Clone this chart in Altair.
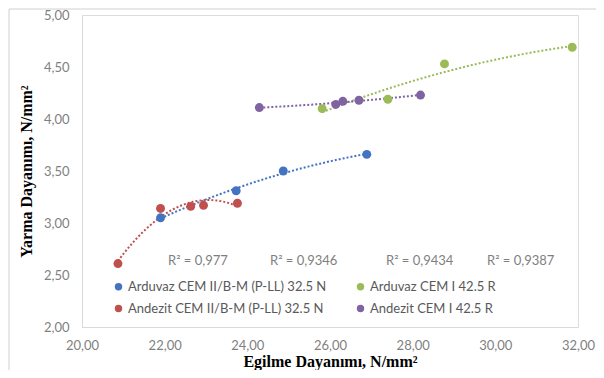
import altair as alt
import pandas as pd

# ---- data ----
series_names = [
    "Arduvaz CEM II/B-M (P-LL) 32.5 N",
    "Andezit CEM II/B-M (P-LL) 32.5 N",
    "Arduvaz CEM I 42.5 R",
    "Andezit CEM I 42.5 R",
]
series_colors = ["#4374C1", "#C0504D", "#9BBB59", "#8064A2"]

ard2_x = [21.90, 23.73, 24.87, 26.89]
ard2_y = [3.05, 3.31, 3.50, 3.66]

ard1_x = [25.81, 27.40, 28.77, 31.86]
ard1_y = [4.10, 4.19, 4.53, 4.69]

and2_x = [20.87, 21.90, 22.63, 22.94, 23.76]
and2_y = [2.61, 3.14, 3.16, 3.17, 3.19]

and1_x = [24.29, 26.14, 26.31, 26.70, 28.19]
and1_y = [4.11, 4.14, 4.17, 4.18, 4.23]

r2_labels = ["R² = 0,977", "R² = 0,9346", "R² = 0,9434", "R² = 0,9387"]
r2_anchor_px = [86, 188, 304, 405]   # annotation positions (pixels in plot area)

rows = []
for name, xs, ys in [
    ("Arduvaz CEM II/B-M (P-LL) 32.5 N", ard2_x, ard2_y),
    ("Arduvaz CEM I 42.5 R", ard1_x, ard1_y),
    ("Andezit CEM II/B-M (P-LL) 32.5 N", and2_x, and2_y),
    ("Andezit CEM I 42.5 R", and1_x, and1_y),
]:
    for xv, yv in zip(xs, ys):
        rows.append({"seri": name, "x": xv, "y": yv})
df = pd.DataFrame(rows)

FONT = "Lato"
GREY = "#7f7f7f"
LGREY = "#d9d9d9"

xscale = alt.Scale(domain=[20, 32], nice=False, zero=False)
yscale = alt.Scale(domain=[2, 5], nice=False, zero=False)
cscale = alt.Scale(domain=series_names, range=series_colors)

label_expr = "replace(format(datum.value, '.2f'), '.', ',')"

xaxis = alt.Axis(
    title="Egilme Dayanımı, N/mm²", values=[20, 22, 24, 26, 28, 30, 32],
    labelExpr=label_expr, grid=False, ticks=False, domainColor=LGREY,
    labelColor=GREY, labelFont=FONT, labelFontSize=13, labelPadding=12,
    labelFlush=False,
    titleFont="Liberation Serif", titleFontSize=16, titleFontWeight="bold",
    titleColor="black", titleBaseline="bottom", titleY=42,
)
yaxis = alt.Axis(
    title="Yarma Dayanımı, N/mm²", values=[2, 2.5, 3, 3.5, 4, 4.5, 5],
    labelExpr=label_expr, grid=False, ticks=False, domainColor=LGREY,
    labelColor=GREY, labelFont=FONT, labelFontSize=13, labelPadding=13,
    labelFlush=False,
    titleFont="Liberation Serif", titleFontSize=16, titleFontWeight="bold",
    titleColor="black", titlePadding=9,
)

base = alt.Chart(df)

trend = base.transform_regression(
    "x", "y", method="poly", order=2, groupby=["seri"]
).mark_line(strokeDash=[2, 2], strokeWidth=2).encode(
    x=alt.X("x:Q", scale=xscale, axis=xaxis),
    y=alt.Y("y:Q", scale=yscale, axis=yaxis),
    color=alt.Color("seri:N", scale=cscale, legend=None),
    detail="seri:N",
)

points = base.mark_circle(size=80, opacity=1).encode(
    x=alt.X("x:Q", scale=xscale, axis=xaxis),
    y=alt.Y("y:Q", scale=yscale, axis=yaxis),
    color=alt.Color(
        "seri:N", scale=cscale,
        legend=alt.Legend(
            title=None, orient="none", legendX=30, legendY=265, columns=2,
            columnPadding=27, rowPadding=8, symbolType="circle", symbolSize=55,
            labelFont=FONT, labelFontSize=13, labelColor="#595959",
            labelLimit=400, symbolOffset=0, labelOffset=3,
        ),
    ),
)

texts = [
    alt.Chart(pd.DataFrame({"t": [lab]})).mark_text(
        font=FONT, fontSize=13, color=GREY, align="left", baseline="middle"
    ).encode(x=alt.value(px), y=alt.value(246), text="t:N")
    for lab, px in zip(r2_labels, r2_anchor_px)
]

frame = alt.Chart(pd.DataFrame({"d": [0]})).mark_rect(
    fill=None, stroke="#d0d0d0", strokeWidth=1
).encode(x=alt.value(-73), x2=alt.value(540), y=alt.value(-6), y2=alt.value(400))

chart = alt.layer(frame, trend, points, *texts).resolve_scale(
    color="independent"
).properties(
    width=496, height=312,
    autosize=alt.AutoSizeParams(type="none"),
    padding={"left": 74, "top": 7, "right": 18, "bottom": 43},
).configure_view(stroke=None).configure(background="white")

chart.save("out.html", embed_options={"renderer": "svg", "actions": False})
